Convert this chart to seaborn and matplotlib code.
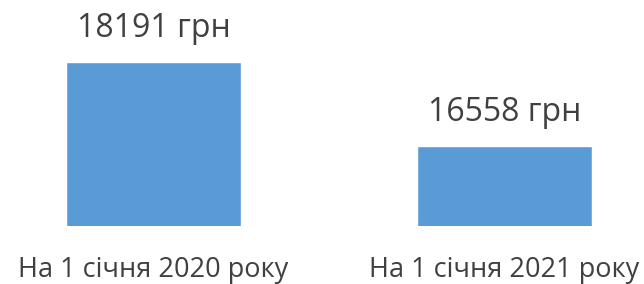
import pandas as pd
import seaborn as sns
import matplotlib.pyplot as plt

periods = ["На 1 січня 2020 року", "На 1 січня 2021 року"]
salary = [18191, 16558]

df = pd.DataFrame({"period": periods, "salary": salary})

sns.set_theme(style="white")
plt.rcParams['font.family'] = ['Open Sans', 'DejaVu Sans']

fig = plt.figure(figsize=(6.44, 2.84), dpi=100)
# axes runs a little past the edges, like the cropped source chart
ax = fig.add_axes([-22 / 644, 58 / 284, 702 / 644, 206 / 284])

sns.barplot(x="period", y="salary", data=df, color="#5B9BD5",
            width=0.5, saturation=1, ax=ax)

ax.bar_label(ax.containers[0], labels=[f"{v} грн" for v in salary],
             padding=12, fontsize=23, color="#404040")

ax.set(ylim=(15000, 19000), xlim=(-0.5, 1.5), xlabel="", ylabel="")
ax.set_yticks([])
ax.tick_params(axis="x", length=0, pad=21.5, labelsize=19.5, labelcolor="#404040")
sns.despine(left=True, bottom=True)

fig.savefig("out.png", dpi=100)
